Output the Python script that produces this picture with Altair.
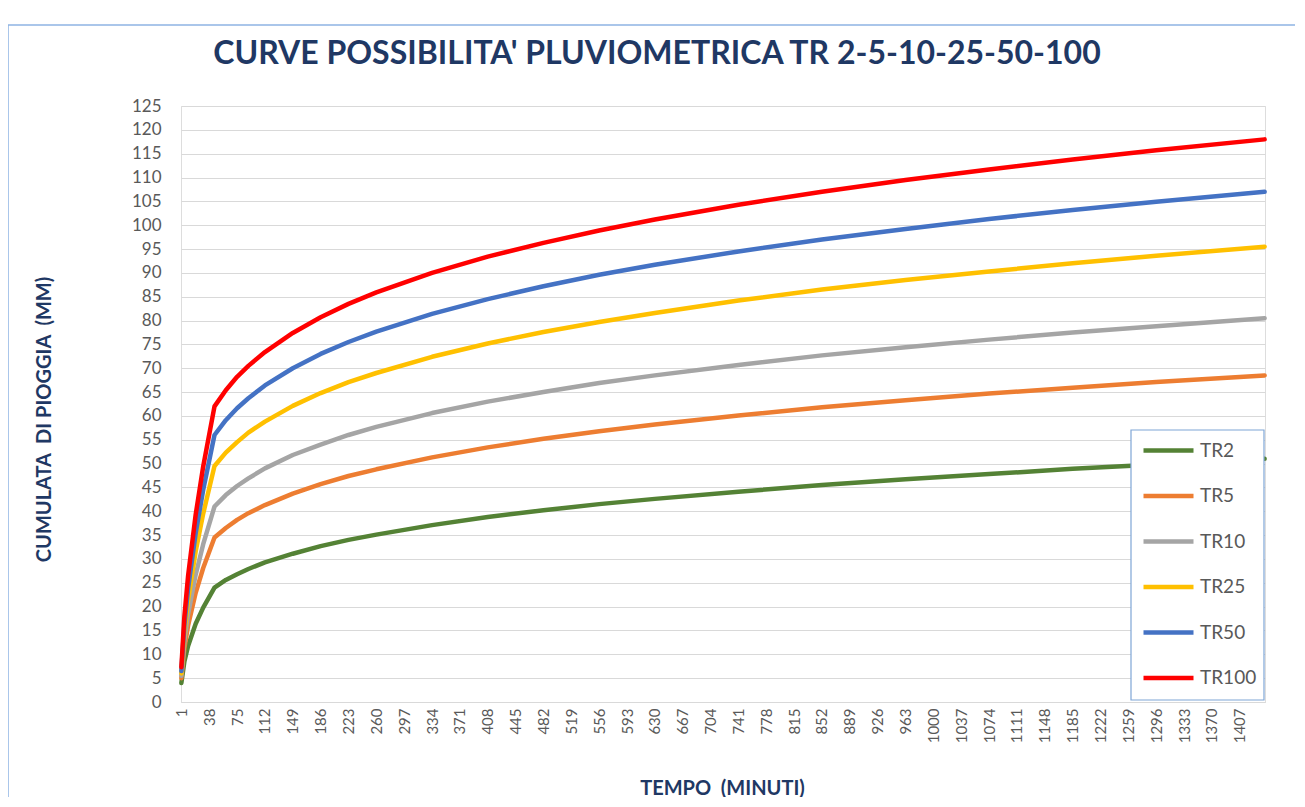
import altair as alt
import pandas as pd

# ---- data ----
MINUTES = [1, 5, 10, 20, 30, 45, 60, 75, 90, 112, 149, 186, 223, 260, 334, 408,
           482, 556, 630, 741, 852, 963, 1074, 1185, 1296, 1440]

TR2 = [4.0, 8.5, 11.8, 16.4, 19.8, 24.0, 25.6, 26.8, 27.9, 29.3, 31.1, 32.7, 34.0,
       35.1, 37.1, 38.8, 40.2, 41.5, 42.6, 44.1, 45.5, 46.7, 47.8, 48.9, 49.8, 51.0]
TR5 = [5.0, 11.3, 16.1, 22.9, 28.1, 34.5, 36.5, 38.2, 39.6, 41.3, 43.7, 45.7, 47.4,
       48.8, 51.3, 53.4, 55.2, 56.8, 58.2, 60.1, 61.8, 63.3, 64.7, 65.9, 67.1, 68.5]
TR10 = [5.5, 12.9, 18.5, 26.7, 33.1, 41.0, 43.4, 45.3, 46.9, 49.0, 51.8, 54.0, 56.0,
        57.7, 60.6, 63.0, 65.0, 66.9, 68.5, 70.7, 72.7, 74.4, 76.0, 77.5, 78.8, 80.5]
TR25 = [6.0, 14.7, 21.5, 31.6, 39.5, 49.5, 52.3, 54.5, 56.5, 58.8, 62.1, 64.8, 67.1,
        69.0, 72.4, 75.2, 77.6, 79.7, 81.6, 84.2, 86.5, 88.5, 90.3, 92.0, 93.6, 95.5]
TR50 = [6.5, 16.2, 23.9, 35.4, 44.5, 56.0, 59.1, 61.6, 63.7, 66.4, 70.0, 73.0, 75.5,
        77.7, 81.4, 84.5, 87.2, 89.6, 91.7, 94.5, 97.0, 99.2, 101.3, 103.2, 104.9, 107.0]
TR100 = [7.3, 18.0, 26.6, 39.3, 49.4, 62.0, 65.4, 68.2, 70.5, 73.4, 77.4, 80.7, 83.5,
         85.9, 90.0, 93.4, 96.3, 98.9, 101.2, 104.3, 107.0, 109.5, 111.7, 113.8, 115.7, 118.0]

SERIES = ["TR2", "TR5", "TR10", "TR25", "TR50", "TR100"]
COLORS = ["#548235", "#ED7D31", "#A5A5A5", "#FFC000", "#4472C4", "#FF0000"]
WIDTHS = [4.5, 4.5, 4.5, 4.5, 4.5, 3]

X_TICKS = [1, 38, 75, 112, 149, 186, 223, 260, 297, 334, 371, 408, 445, 482, 519,
           556, 593, 630, 667, 704, 741, 778, 815, 852, 889, 926, 963, 1000, 1037,
           1074, 1111, 1148, 1185, 1222, 1259, 1296, 1333, 1370, 1407]
Y_TICKS = list(range(0, 130, 5))

TITLE = "CURVE POSSIBILITA' PLUVIOMETRICA TR 2-5-10-25-50-100"

rows = []
for name, vals in zip(SERIES, [TR2, TR5, TR10, TR25, TR50, TR100]):
    for order, (m, v) in enumerate(zip(MINUTES, vals)):
        rows.append({"series": name, "minuti": m, "mm": v, "ord": order})
df = pd.DataFrame(rows)

FONT = "Lato"
NAVY = "#1F3864"
GRAY = "#595959"

lines = alt.Chart(df).mark_line(strokeJoin="round", strokeCap="round").encode(
    x=alt.X("minuti:Q",
            scale=alt.Scale(domain=[0.5, 1440.5], nice=False, zero=False),
            axis=alt.Axis(values=X_TICKS, format="d", labelAngle=270, labelFontSize=15,
                          labelColor=GRAY, labelFont=FONT, ticks=False,
                          domainColor="#D9D9D9", labelPadding=6, grid=False,
                          labelOverlap=False, labelBound=False, labelFlush=False,
                          title="TEMPO\u00a0 (MINUTI)", titleFont=FONT,
                          titleFontSize=20, titleFontWeight="bold", titleColor=NAVY,
                          titleY=86, titleBaseline="middle", titleX=541)),
    y=alt.Y("mm:Q",
            scale=alt.Scale(domain=[0, 125], nice=False),
            axis=alt.Axis(values=Y_TICKS, labelFontSize=17, labelColor=GRAY,
                          labelFont=FONT, ticks=False, domain=False,
                          gridColor="#D9D9D9", gridWidth=1.2, labelPadding=20,
                          title="CUMULATA\u00a0 DI PIOGGIA\u00a0 (MM)", titleFont=FONT,
                          titleFontSize=20, titleFontWeight="bold", titleColor=NAVY,
                          titleX=-137, titleY=313, titleBaseline="middle",
                          titleAngle=270)),
    color=alt.Color("series:N",
                    scale=alt.Scale(domain=SERIES, range=COLORS),
                    sort=SERIES,
                    legend=alt.Legend(title=None, orient="none", legendX=960,
                                      legendY=317, padding=0,
                                      symbolType="stroke", symbolSize=2500,
                                      symbolStrokeWidth=4, labelFontSize=19,
                                      labelFont=FONT, labelColor=GRAY,
                                      rowPadding=7.5, labelOffset=4)),
    strokeWidth=alt.StrokeWidth("series:N",
                                scale=alt.Scale(domain=SERIES, range=WIDTHS),
                                legend=None),
    order="ord:Q",
)

one = alt.Data(values=[{"k": 1}])

frame = alt.Chart(one).mark_rect(
    filled=False, stroke="#8EB4E3", strokeWidth=1.5
).encode(
    x=alt.value(-173), x2=alt.value(1119), y=alt.value(-81), y2=alt.value(712)
)

legend_box = alt.Chart(one).mark_rect(
    fill="white", stroke="#7FA6D6", strokeWidth=1.2
).encode(
    x=alt.value(950), x2=alt.value(1083), y=alt.value(324), y2=alt.value(594)
)

title = alt.Chart(one).mark_text(
    text=TITLE, font=FONT, fontSize=32, fontWeight="bold", color=NAVY,
    align="center", baseline="alphabetic"
).encode(x=alt.value(476), y=alt.value(-42))

chart = alt.layer(frame, title, lines, legend_box).properties(
    width=1084,
    height=596,
    autosize=alt.AutoSizeParams(type="none"),
    padding={"left": 173, "top": 98, "right": 30, "bottom": 95},
).configure_view(stroke=None).configure(background="white")

chart.save("out.html", embed_options={"renderer": "svg", "actions": False})
